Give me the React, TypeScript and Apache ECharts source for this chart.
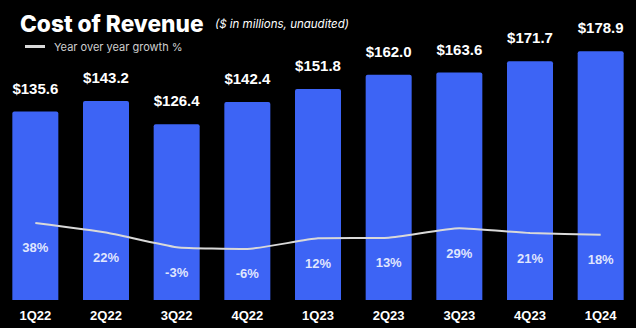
import React, { useEffect, useRef } from "react";
import * as echarts from "echarts";

const categories = ["1Q22", "2Q22", "3Q22", "4Q22", "1Q23", "2Q23", "3Q23", "4Q23", "1Q24"];
const costOfRevenue = [135.6, 143.2, 126.4, 142.4, 151.8, 162.0, 163.6, 171.7, 178.9];
const yoyGrowth = [38, 22, -3, -6, 12, 13, 29, 21, 18];

const BLUE = "#3D64F5";
const LINE = "#d9d9d9";

export default function App() {
  const ref = useRef<HTMLDivElement>(null);
  useEffect(() => {
    if (!ref.current) return;
    const chart = echarts.init(ref.current, null, { renderer: "svg" });
    chart.setOption({
      animation: false,
      backgroundColor: "#000000",
      title: [
        {
          text: "Cost of Revenue",
          left: 15,
          top: 7,
          textStyle: { color: "#ffffff", fontFamily: "Inter", fontWeight: 800, fontSize: 22.7 },
        },
        {
          text: "($ in millions, unaudited)",
          left: 210,
          top: 13,
          textStyle: { color: "#ffffff", fontFamily: "Inter", fontStyle: "italic", fontWeight: "normal", fontSize: 11.5 },
        },
      ],
      legend: {
        left: 25,
        top: 41,
        padding: 0,
        itemWidth: 20,
        itemHeight: 3,
        data: [{ name: "Year over year growth %", icon: "rect", itemStyle: { color: LINE } }],
        textStyle: { color: "#cfcfcf", fontFamily: "Inter", fontSize: 11, padding: [0, 0, 0, 4] },
      },
      grid: { left: -2, right: -6, top: 22, bottom: 28, containLabel: false },
      xAxis: {
        type: "category",
        data: categories,
        axisLine: { show: false },
        axisTick: { show: false },
        axisLabel: { color: "#ffffff", fontWeight: "bold", fontSize: 13, fontFamily: "Liberation Sans", margin: 9 },
      },
      yAxis: [
        { type: "value", min: 0, max: 200, show: false },
        { type: "value", min: -92.5, max: 378.6, show: false },
      ],
      series: [
        {
          type: "bar",
          name: "Cost of Revenue",
          data: costOfRevenue,
          barWidth: 46,
          itemStyle: { color: BLUE, borderRadius: [2, 2, 0, 0] },
          label: {
            show: true,
            position: "top",
            distance: 16,
            color: "#ffffff",
            fontWeight: "bold",
            fontSize: 15,
            fontFamily: "Liberation Sans",
            formatter: (p: any) => "$" + Number(p.value).toFixed(1),
          },
        },
        {
          type: "line",
          name: "Year over year growth %",
          yAxisIndex: 1,
          data: yoyGrowth,
          smooth: 0.15,
          symbol: "circle",
          symbolSize: 1,
          itemStyle: { color: "rgba(0,0,0,0)" },
          lineStyle: { color: LINE, width: 2 },
          label: {
            show: true,
            position: "bottom",
            distance: 18,
            color: "rgba(255,255,255,0.85)",
            fontWeight: "bold",
            fontSize: 13,
            fontFamily: "Liberation Sans",
            formatter: (p: any) => p.value + "%",
          },
        },
      ],
    });
    return () => chart.dispose();
  }, []);
  return (
    <div
      ref={ref}
      style={{ position: "fixed", left: 0, top: 0, width: 636, height: 328, background: "#000" }}
    />
  );
}
